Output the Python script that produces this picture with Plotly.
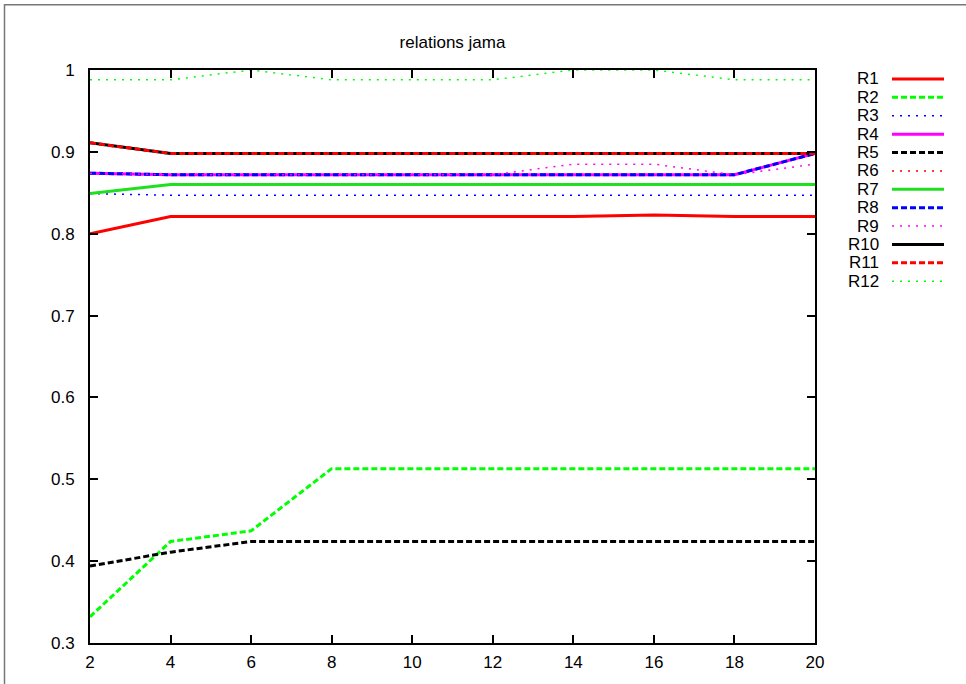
import plotly.graph_objects as go

x_vals = [2, 4, 6, 8, 10, 12, 14, 16, 18, 20]

R1 = [0.800, 0.821, 0.821, 0.821, 0.821, 0.821, 0.821, 0.823, 0.821, 0.821]
R2 = [0.332, 0.424, 0.437, 0.513, 0.513, 0.513, 0.513, 0.513, 0.513, 0.513]
R3 = [0.849, 0.847, 0.847, 0.847, 0.847, 0.847, 0.847, 0.847, 0.847, 0.847]
R4 = [0.874, 0.872, 0.872, 0.872, 0.872, 0.872, 0.872, 0.872, 0.872, 0.898]
R5 = [0.394, 0.411, 0.424, 0.424, 0.424, 0.424, 0.424, 0.424, 0.424, 0.424]
R6 = [0.911, 0.898, 0.898, 0.898, 0.898, 0.898, 0.898, 0.898, 0.898, 0.898]
R7 = [0.849, 0.860, 0.860, 0.860, 0.860, 0.860, 0.860, 0.860, 0.860, 0.860]
R8 = [0.874, 0.872, 0.872, 0.872, 0.872, 0.872, 0.872, 0.872, 0.872, 0.898]
R9 = [0.874, 0.872, 0.872, 0.872, 0.872, 0.872, 0.885, 0.885, 0.872, 0.885]
R10 = [0.911, 0.898, 0.898, 0.898, 0.898, 0.898, 0.898, 0.898, 0.898, 0.898]
R11 = [0.911, 0.898, 0.898, 0.898, 0.898, 0.898, 0.898, 0.898, 0.898, 0.898]
R12 = [0.988, 0.988, 1.000, 0.988, 0.988, 0.988, 1.000, 1.000, 0.988, 0.988]

series_names = ["R1", "R2", "R3", "R4", "R5", "R6", "R7", "R8", "R9", "R10", "R11", "R12"]
series_values = [R1, R2, R3, R4, R5, R6, R7, R8, R9, R10, R11, R12]
series_colors = ["#ff0000", "#00ff00", "#0000ff", "#ff00ff", "#000000",
                 "#ff0000", "#1ee01e", "#0000ff", "#ff00ff", "#000000",
                 "#ff0000", "#00ff00"]
series_dash = ["solid", "6px,3px", "2px,6px"] * 4
series_width = [3, 3, 1.5] * 4

title_text = "relations jama"

W, H = 966, 684
L, R, T, B = 90, 815, 70, 645   # plot area in pixels
FONT = "Liberation Sans, Arial, sans-serif"


def px(xp):
    return (xp - L) / (R - L)


def py(yp):
    return (B - yp) / (B - T)


fig = go.Figure()
for name, vals, col, dash, wid in zip(series_names, series_values, series_colors,
                                      series_dash, series_width):
    fig.add_trace(go.Scatter(x=x_vals, y=vals, mode="lines", name=name,
                             line=dict(color=col, dash=dash, width=wid),
                             showlegend=False))

shapes = []
annotations = []
# custom gnuplot-style legend: label on the left, line sample on the right
for i, (name, col, dash, wid) in enumerate(zip(series_names, series_colors,
                                               series_dash, series_width)):
    yrow = 79 + i * 18.45
    shapes.append(dict(type="line", xref="paper", yref="paper",
                       x0=px(892), x1=px(944), y0=py(yrow), y1=py(yrow),
                       line=dict(color=col, dash=dash, width=wid)))
    annotations.append(dict(text=name, xref="paper", yref="paper",
                            x=px(881), y=py(yrow), xanchor="right", yanchor="middle",
                            showarrow=False,
                            font=dict(family=FONT, size=17, color="#000")))

# outer frame of the image
shapes.append(dict(type="rect", xref="paper", yref="paper",
                   x0=px(4.5), x1=px(975), y0=py(695), y1=py(4.5),
                   line=dict(color="#777777", width=1.5), layer="below"))

axis_common = dict(showgrid=False, zeroline=False, showline=True, linecolor="#000",
                   linewidth=2, mirror="ticks", ticks="inside", ticklen=8,
                   tickwidth=2, tickcolor="#000",
                   tickfont=dict(family=FONT, size=17, color="#000"))

fig.update_layout(
    width=W, height=H,
    margin=dict(l=L, r=W - R, t=T, b=H - B, pad=0),
    paper_bgcolor="white", plot_bgcolor="white",
    title=dict(text=title_text, x=0.5, xref="paper", xanchor="center",
               y=1 - 42 / H, yref="container", yanchor="middle",
               font=dict(family=FONT, size=17, color="#000")),
    xaxis=dict(range=[2, 20], tickmode="array", tickvals=x_vals,
               ticktext=[str(v) for v in x_vals], ticklabelstandoff=3, **axis_common),
    yaxis=dict(range=[0.3, 1.0], dtick=0.1, tick0=0.3, ticklabelstandoff=10,
               **axis_common),
    shapes=shapes, annotations=annotations,
    showlegend=False,
)

fig.write_html("out.html", config={"displayModeBar": False},
               post_script="document.body.style.margin='0';")
